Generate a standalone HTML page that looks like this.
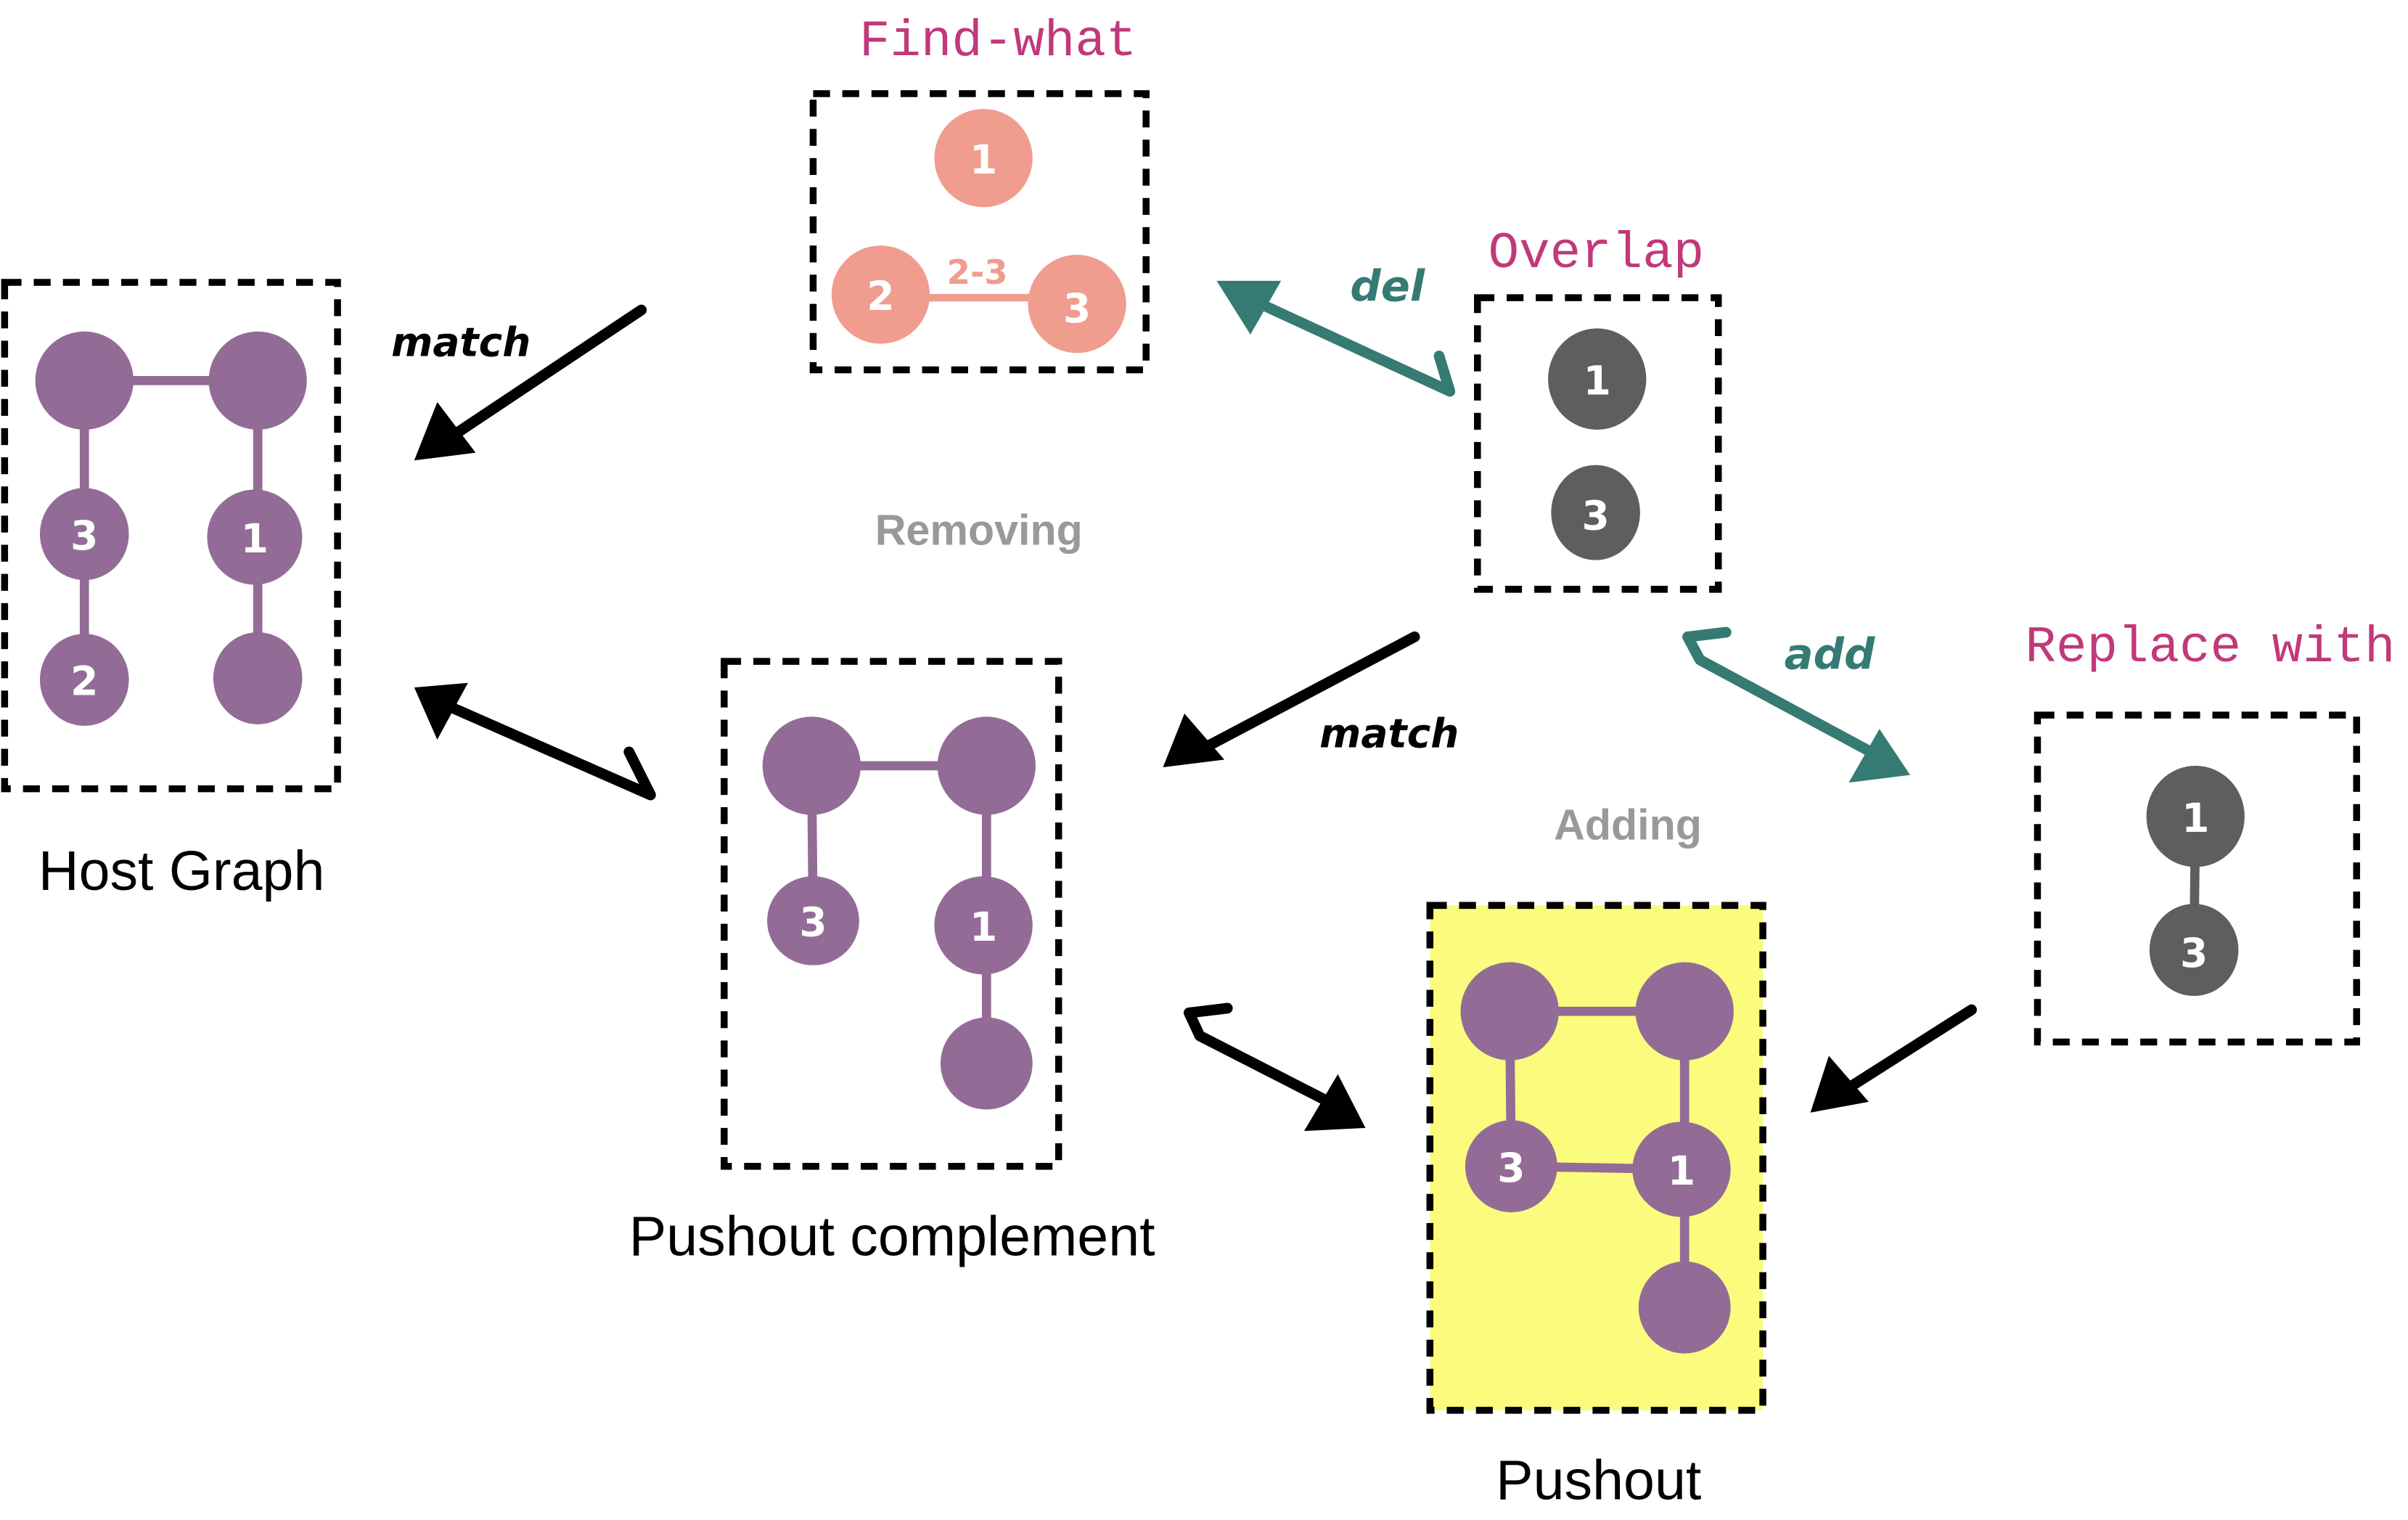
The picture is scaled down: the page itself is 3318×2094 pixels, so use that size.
<!DOCTYPE html>
<html><head><meta charset="utf-8"><style>
html,body{margin:0;padding:0;background:#fff;}
svg{display:block;}
.mono{font-family:"Liberation Mono","DejaVu Sans Mono",monospace;fill:#c0397a;}
.lbl{font-family:"Liberation Sans",sans-serif;fill:#000;}
.gray{font-family:"Liberation Sans",sans-serif;font-weight:bold;fill:#999;}
.hand{font-family:"DejaVu Sans",sans-serif;font-weight:bold;font-style:italic;}
.num{font-family:"DejaVu Sans",sans-serif;font-weight:bold;fill:#fff;text-anchor:middle;}
.box{fill:none;stroke:#000;stroke-width:4.5;stroke-dasharray:11 8;}
</style></head><body>
<svg width="3318" height="2094" viewBox="0 0 1569.5 990.5" preserveAspectRatio="none" xmlns="http://www.w3.org/2000/svg">
<!-- Host graph -->
<rect class="box" x="3" y="184" width="217" height="330"/>
<g stroke="#926c96" stroke-width="6">
<line x1="55" y1="248" x2="168" y2="248"/><line x1="55" y1="248" x2="55" y2="443"/><line x1="168" y1="248" x2="168" y2="442"/>
</g>
<g fill="#926c96">
<ellipse cx="55" cy="248" rx="32" ry="32"/><ellipse cx="168" cy="248" rx="32" ry="32"/>
<ellipse cx="55" cy="348" rx="29" ry="30"/><ellipse cx="166" cy="350" rx="31" ry="31"/>
<ellipse cx="55" cy="443" rx="29" ry="30"/><ellipse cx="168" cy="442" rx="29" ry="30"/>
</g>
<text class="num" x="55" y="358" font-size="26">3</text>
<text class="num" x="166" y="360" font-size="26">1</text>
<text class="num" x="55" y="453" font-size="26">2</text>
<text class="lbl" x="25" y="580" font-size="36.5">Host Graph</text>

<!-- Find-what -->
<text class="mono" x="560" y="36" font-size="33.5">Find-what</text>
<rect class="box" x="530" y="61" width="217" height="180"/>
<line x1="574" y1="194" x2="702" y2="194" stroke="#f09c8f" stroke-width="5"/>
<g fill="#f09c8f">
<ellipse cx="641" cy="103" rx="32" ry="32"/><ellipse cx="574" cy="192" rx="32" ry="32"/><ellipse cx="702" cy="198" rx="32" ry="32"/>
</g>
<text class="num" x="641" y="113" font-size="26">1</text>
<text class="num" x="574" y="202" font-size="26">2</text>
<text class="num" x="702" y="210" font-size="26">3</text>
<text class="num" x="637" y="185" font-size="22" style="fill:#f09c8f">2-3</text>

<!-- Overlap -->
<text class="mono" x="970" y="174" font-size="33.5">Overlap</text>
<rect class="box" x="963" y="194" width="157" height="190"/>
<g fill="#5e5e5e"><ellipse cx="1041" cy="247" rx="32" ry="33"/><ellipse cx="1040" cy="334" rx="29" ry="31"/></g>
<text class="num" x="1041" y="257" font-size="26">1</text>
<text class="num" x="1040" y="345" font-size="26">3</text>

<text class="gray" x="638" y="355" font-size="28" text-anchor="middle">Removing</text>
<text class="gray" x="1061" y="547" font-size="28" text-anchor="middle">Adding</text>

<!-- Pushout complement -->
<rect class="box" x="472" y="431" width="218" height="329"/>
<g stroke="#926c96" stroke-width="6">
<line x1="529" y1="499" x2="643" y2="499"/><line x1="529" y1="499" x2="530" y2="600"/><line x1="643" y1="499" x2="643" y2="693"/>
</g>
<g fill="#926c96">
<ellipse cx="529" cy="499" rx="32" ry="32"/><ellipse cx="643" cy="499" rx="32" ry="32"/>
<ellipse cx="530" cy="600" rx="30" ry="29"/><ellipse cx="641" cy="603" rx="32" ry="32"/><ellipse cx="643" cy="693" rx="30" ry="30"/>
</g>
<text class="num" x="530" y="610" font-size="26">3</text>
<text class="num" x="641" y="613" font-size="26">1</text>
<text class="lbl" x="410" y="818" font-size="36.5">Pushout complement</text>

<!-- Replace with -->
<text class="mono" x="1320" y="431" font-size="33.5">Replace with</text>
<rect class="box" x="1328" y="466" width="208" height="213"/>
<line x1="1431" y1="532" x2="1430" y2="619" stroke="#5e5e5e" stroke-width="6"/>
<g fill="#5e5e5e"><ellipse cx="1431" cy="532" rx="32" ry="33"/><ellipse cx="1430" cy="619" rx="29" ry="30"/></g>
<text class="num" x="1431" y="542" font-size="26">1</text>
<text class="num" x="1430" y="630" font-size="26">3</text>

<!-- Pushout -->
<rect x="932" y="590" width="217" height="329" fill="#fbfb7e"/>
<rect class="box" x="932" y="590" width="217" height="329"/>
<g stroke="#926c96" stroke-width="6">
<line x1="984" y1="659" x2="1098" y2="659"/><line x1="984" y1="659" x2="985" y2="760"/><line x1="1098" y1="659" x2="1098" y2="852"/><line x1="985" y1="760" x2="1096" y2="762"/>
</g>
<g fill="#926c96">
<ellipse cx="984" cy="659" rx="32" ry="32"/><ellipse cx="1098" cy="659" rx="32" ry="32"/>
<ellipse cx="985" cy="760" rx="30" ry="30"/><ellipse cx="1096" cy="762" rx="32" ry="31"/><ellipse cx="1098" cy="852" rx="30" ry="30"/>
</g>
<text class="num" x="985" y="770" font-size="26">3</text>
<text class="num" x="1096" y="772" font-size="26">1</text>
<text class="lbl" x="975" y="977" font-size="36.5">Pushout</text>

<!-- Arrows -->
<g stroke-linecap="round" stroke-linejoin="round" fill="none">
<path d="M418 202 L295 284" stroke="#000" stroke-width="7"/>
<path d="M424 518 L410 490 M424 518 L292 460" stroke="#000" stroke-width="7"/>
<path d="M922 415 L780 490" stroke="#000" stroke-width="7"/>
<path d="M945 255 L938 232 M945 255 L815 195" stroke="#367a74" stroke-width="7"/>
<path d="M1100 415 L1125 412 M1100 415 L1108 430 L1225 493" stroke="#367a74" stroke-width="7"/>
<path d="M775 660 L800 657 M775 660 L782 675 L870 720" stroke="#000" stroke-width="7"/>
<path d="M1285 658 L1200 712" stroke="#000" stroke-width="7"/>
</g>
<polygon points="270,300 285,262 310,295" fill="#000"/>
<polygon points="270,448 305,445 285,482" fill="#000"/>
<polygon points="758,500 772,465 798,495" fill="#000"/>
<polygon points="793,183 835,183 815,218" fill="#367a74"/>
<polygon points="1245,505 1205,510 1225,475" fill="#367a74"/>
<polygon points="890,735 850,737 872,700" fill="#000"/>
<polygon points="1180,725 1192,688 1218,718" fill="#000"/>

<text class="hand" x="255" y="232" font-size="26" fill="#000">match</text>
<text class="hand" x="860" y="487" font-size="26" fill="#000">match</text>
<text class="hand" x="880" y="196" font-size="28" fill="#367a74">del</text>
<text class="hand" x="1163" y="436" font-size="28" fill="#367a74">add</text>
</svg>
</body></html>
